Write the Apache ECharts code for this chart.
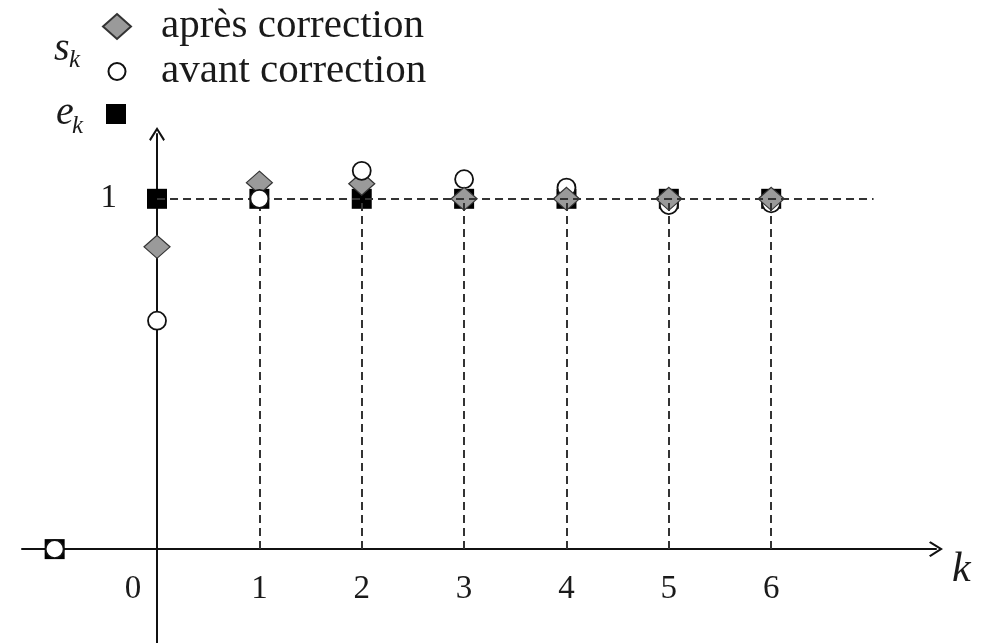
<!DOCTYPE html>
<html>
<head>
<meta charset="utf-8">
<script src="https://cdn.jsdelivr.net/npm/echarts@6/dist/echarts.min.js"></script>
<style>
html,body{margin:0;padding:0;background:#fff;}
#c{width:990px;height:643px;}
</style>
</head>
<body>
<div id="c"></div>
<script>
// ---- data ----
var kValues = [-1, 0, 1, 2, 3, 4, 5, 6];
var eValues = [0, 1, 1, 1, 1, 1, 1, 1];                              // e_k (squares)
var sAvant  = [0, 0.652, 1.0, 1.08, 1.056, 1.032, 0.982, 0.987];      // s_k avant correction (circles)
var sApres  = [null, 0.863, 1.046, 1.043, 1.0, 1.0, 1.0, 1.0];       // s_k après correction (diamonds)
var xTickLabels = [0, 1, 2, 3, 4, 5, 6];
var yTickLabels = [1];
var refLevel = 1;
var refEnd = 7;
var frontCircleMaxK = 2;

var serif = '"Liberation Serif","DejaVu Serif",serif';

function pairs(vals, filter) {
  var out = [];
  for (var i = 0; i < kValues.length; i++) {
    if (vals[i] === null) continue;
    if (filter && !filter(kValues[i])) continue;
    out.push([kValues[i], vals[i]]);
  }
  return out;
}

var guideLines = [[{coord: [0, refLevel]}, {coord: [refEnd, refLevel]}]];
for (var i = 0; i < kValues.length; i++) {
  if (kValues[i] >= 1) guideLines.push([{coord: [kValues[i], 0]}, {coord: [kValues[i], eValues[i]]}]);
}

var chevron = 'path://M0,9.5 L6,0 L12,9.5 L10.8,10.6 L6,2.9 L1.2,10.6 Z';
// legend circle icon: small circle inside a 28x25 box (the leading moves set the box)
var legendCircle = 'path://M0,0 M28,25 M5.5,12.5 A8.5,8.5 0 1,1 22.5,12.5 A8.5,8.5 0 1,1 5.5,12.5 Z';

function circleStyle() { return {color: '#ffffff', borderColor: '#111', borderWidth: 1.8, opacity: 1}; }
var diamondStyle = {color: '#9a9a9a', borderColor: '#333', borderWidth: 1.2, opacity: 1};

var GRID_L = 22, GRID_R = 54, GRID_T = 134, GRID_B = 0;
var X_MIN = -1.319, X_MAX = 7.61, Y_MIN = -0.268, Y_MAX = 1.185;
var W = 990, H = 643;
var plotW = W - GRID_L - GRID_R, plotH = H - GRID_T - GRID_B;
// axes cross at k = 0 and s = 0: shift the axes from the grid edges to there
var yAxisOffset = -((0 - X_MIN) / (X_MAX - X_MIN) * plotW);
var xAxisOffset = -((0 - Y_MIN) / (Y_MAX - Y_MIN) * plotH);

var chart = echarts.init(document.getElementById('c'), null, {renderer: 'canvas'});
chart.setOption({
  animation: false,
  backgroundColor: '#ffffff',
  grid: {left: GRID_L, right: GRID_R, top: GRID_T, bottom: GRID_B, containLabel: false, outerBoundsMode: 'none'},
  legend: {
    orient: 'vertical',
    left: 102,
    top: 6,
    padding: 0,
    itemWidth: 28,
    itemHeight: 25,
    itemGap: 4,
    selectedMode: false,
    textStyle: {fontFamily: serif, fontSize: 41, color: '#1a1a1a', padding: [0, 0, 0, 25]},
    data: [
      {name: 'après correction', icon: 'diamond'},
      {name: 'avant correction', icon: legendCircle}
    ]
  },
  xAxis: {
    type: 'value',
    min: X_MIN,
    max: X_MAX,
    position: 'bottom',
    offset: xAxisOffset,
    splitLine: {show: false},
    axisTick: {show: false},
    axisLine: {show: true, onZero: false, lineStyle: {color: '#111', width: 2},
      symbol: ['none', chevron], symbolSize: [17, 14]},
    axisLabel: {
      customValues: xTickLabels,
      margin: 24,
      fontFamily: serif, fontSize: 33, color: '#1a1a1a',
      formatter: function (v) { return v === 0 ? '{z|0}' : String(v); },
      rich: {z: {fontFamily: serif, fontSize: 33, color: '#1a1a1a', padding: [0, 48, 0, 0]}}
    },
    name: 'k',
    nameLocation: 'end',
    nameGap: 16,
    nameTextStyle: {fontFamily: serif, fontStyle: 'italic', fontSize: 42, color: '#1a1a1a',
      align: 'left', verticalAlign: 'top'}
  },
  yAxis: {
    type: 'value',
    min: Y_MIN,
    max: Y_MAX,
    position: 'left',
    offset: yAxisOffset,
    splitLine: {show: false},
    axisTick: {show: false},
    axisLine: {show: true, onZero: false, lineStyle: {color: '#111', width: 2},
      symbol: ['none', chevron], symbolSize: [17, 14]},
    axisLabel: {
      customValues: yTickLabels,
      margin: 40,
      fontFamily: serif, fontSize: 33, color: '#1a1a1a'
    }
  },
  graphic: [
    {type: 'text', left: 54, top: 29, style: {text: 's', fontFamily: serif, fontStyle: 'italic', fontSize: 40, fill: '#1a1a1a'}},
    {type: 'text', left: 69, top: 48, style: {text: 'k', fontFamily: serif, fontStyle: 'italic', fontSize: 25, fill: '#1a1a1a'}},
    {type: 'text', left: 56, top: 93, style: {text: 'e', fontFamily: serif, fontStyle: 'italic', fontSize: 40, fill: '#1a1a1a'}},
    {type: 'text', left: 72, top: 114, style: {text: 'k', fontFamily: serif, fontStyle: 'italic', fontSize: 25, fill: '#1a1a1a'}},
    {type: 'rect', left: 106, top: 104, shape: {width: 20, height: 20}, style: {fill: '#000'}}
  ],
  series: [
    {
      name: 'guides', type: 'scatter', data: [], z: 1, silent: true,
      markLine: {
        silent: true, symbol: ['none', 'none'], label: {show: false},
        lineStyle: {color: '#333', width: 2, type: [8, 5], opacity: 1},
        emphasis: {disabled: true},
        data: guideLines
      }
    },
    {
      name: 'e', type: 'scatter', z: 2, symbol: 'rect', symbolSize: 20,
      itemStyle: {color: '#000', opacity: 1}, data: pairs(eValues)
    },
    {
      name: 'avant correction', type: 'scatter', z: 3, symbol: 'circle', symbolSize: 18,
      itemStyle: circleStyle(), data: pairs(sAvant, function (k) { return k > frontCircleMaxK; })
    },
    {
      name: 'après correction', type: 'scatter', z: 4, symbol: 'diamond', symbolSize: [26, 23],
      itemStyle: diamondStyle, data: pairs(sApres)
    },
    {
      name: 'avant correction', type: 'scatter', z: 5, symbol: 'circle', symbolSize: 18,
      itemStyle: circleStyle(), data: pairs(sAvant, function (k) { return k <= frontCircleMaxK; })
    }
  ]
});
</script>
</body>
</html>
